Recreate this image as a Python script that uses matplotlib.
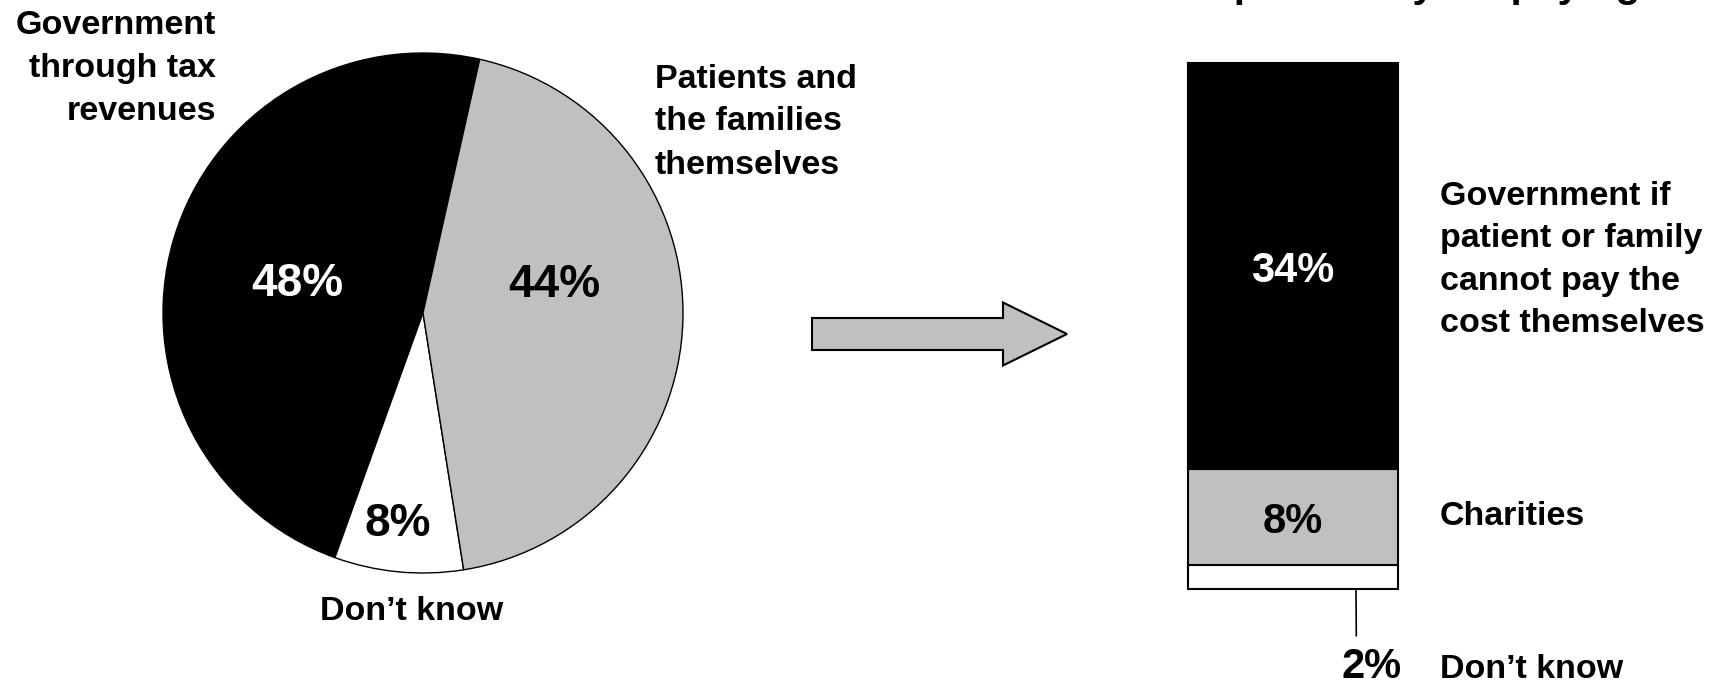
import numpy as np
from matplotlib import pyplot as plt
from matplotlib.patches import FancyArrow

plt.rcParams['font.family'] = ['Liberation Sans', 'DejaVu Sans']
plt.rcParams['font.weight'] = 'bold'

# Data
pie_labels = ['Government\nthrough tax\nrevenues', 'Don\u2019t know', 'Patients and\nthe families\nthemselves']
pie_values = [48, 8, 44]
pie_colors = ['#000000', '#FFFFFF', '#C0C0C0']

bar_labels = ['Don\u2019t know', 'Charities', 'Government if\npatient or family\ncannot pay the\ncost themselves']
bar_values = [2, 8, 34]
bar_colors = ['#FFFFFF', '#C0C0C0', '#000000']

title = 'Responsibility for paying'

W, H = 1720, 683
fig = plt.figure(figsize=(W/100, H/100), dpi=100)

def fx(px): return px / W
def fy(py): return 1 - py / H

# Pie
cx, cy, r = 423, 313, 260
pax = fig.add_axes([fx(cx - r), fy(cy + r), 2*r/W, 2*r/H])
wedges, _ = pax.pie(pie_values, colors=pie_colors, startangle=77.4, counterclock=True,
                    wedgeprops=dict(edgecolor='black', linewidth=1.0))
pax.set_xlim(-1, 1)
pax.set_ylim(-1, 1)
pax.set_aspect('auto')
pax.axis('off')

# percent labels: (distance, angle shift) per wedge
pct_pos = [(0.50, 1.0), (0.80, -1.5), (0.52, 16.0)]
pct_col = ['white', 'black', 'black']
for w, v, (dist, shift), c in zip(wedges, pie_values, pct_pos, pct_col):
    ang = np.radians((w.theta1 + w.theta2) / 2 + shift)
    pax.text(dist*np.cos(ang), dist*np.sin(ang), f'{v}%', ha='center', va='center_baseline',
             fontsize=33, color=c, fontweight='bold')

fig.text(fx(216), fy(68), pie_labels[0], ha='right', va='center', fontsize=24.5, linespacing=1.5)
fig.text(fx(655), fy(122), pie_labels[2], ha='left', va='center', fontsize=24.5, linespacing=1.5)
fig.text(fx(412), fy(612), pie_labels[1], ha='center', va='center', fontsize=24.5)

# Arrow
oax = fig.add_axes([0, 0, 1, 1], zorder=-1)
oax.set_xlim(0, W)
oax.set_ylim(H, 0)
oax.axis('off')
oax.add_patch(FancyArrow(812, 334, 255, 0, width=32, head_width=63, head_length=64,
                         length_includes_head=True, facecolor='#C0C0C0', edgecolor='black', linewidth=1.5))

# Stacked bar
bax = fig.add_axes([fx(1188), fy(589), 210/W, 526/H])
bottom = 0
mids = []
for v, c in zip(bar_values, bar_colors):
    bax.bar(0.5, v, width=1, bottom=bottom, color=c, edgecolor='black', linewidth=1.5, clip_on=False)
    mids.append(bottom + v/2)
    bottom += v
bax.set_xlim(0, 1)
bax.set_ylim(0, sum(bar_values))
bax.axis('off')

bax.text(0.5, mids[2], f'{bar_values[2]}%', ha='center', va='center_baseline', fontsize=30, color='white')
bax.text(0.5, mids[1], f'{bar_values[1]}%', ha='center', va='center_baseline', fontsize=30, color='black')
bax.annotate(f'{bar_values[0]}%', xy=(0.8, 0), xycoords='data',
             xytext=(fx(1372), fy(678)), textcoords='figure fraction',
             ha='center', va='baseline', fontsize=30,
             arrowprops=dict(arrowstyle='-', color='black', lw=1.2, shrinkA=6, shrinkB=0,
                             relpos=(0.24, 1.0)))

fig.text(fx(1440), fy(260), bar_labels[2], ha='left', va='center', fontsize=24.5, linespacing=1.48)
fig.text(fx(1440), fy(513), bar_labels[1], ha='left', va='center_baseline', fontsize=24.5)
fig.text(fx(1440), fy(678), bar_labels[0], ha='left', va='baseline', fontsize=24.5)

# Title, cut off by the top edge
fig.text(fx(1160), fy(-3), title, ha='left', va='baseline', fontsize=29)

fig.savefig('out.png', dpi=100)
